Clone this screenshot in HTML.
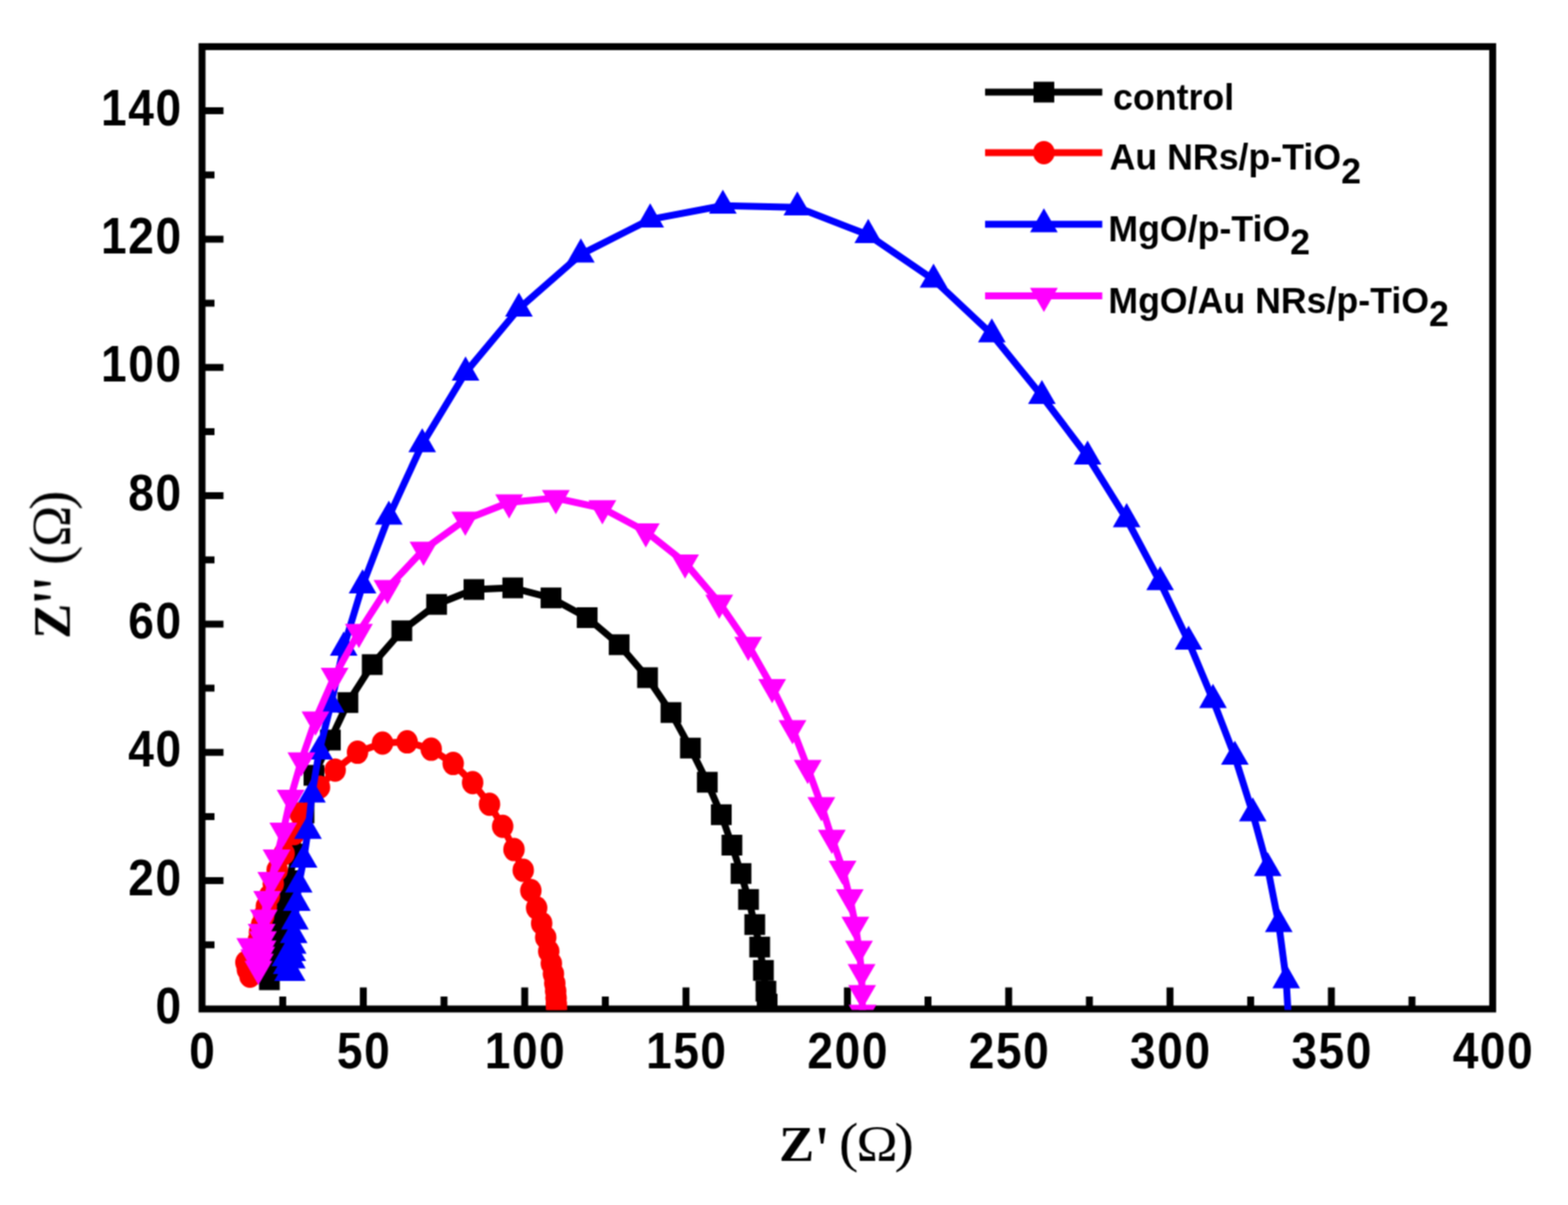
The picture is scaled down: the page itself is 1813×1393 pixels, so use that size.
<!DOCTYPE html>
<html lang="en">
<head>
<meta charset="utf-8">
<title>Nyquist plot</title>
<style>
html,body{margin:0;padding:0;background:#fff;}
body{width:1813px;height:1393px;overflow:hidden;}
svg{display:block;}
.tk{font-family:"Liberation Sans",sans-serif;font-weight:bold;font-size:58px;fill:#000;}
.lg{font-family:"Liberation Sans",sans-serif;font-weight:bold;font-size:41.3px;fill:#000;}
.ax{font-family:"Liberation Serif",serif;font-weight:bold;font-size:56px;fill:#000;}
.sy{font-weight:normal;}
</style>
</head>
<body>
<svg width="1813" height="1393" viewBox="0 0 1813 1393">
<defs><clipPath id="plot"><rect x="233.6" y="53.9" width="1492.3" height="1113.7"/></clipPath>
<filter id="soft" filterUnits="userSpaceOnUse" x="0" y="0" width="1813" height="1393" color-interpolation-filters="sRGB"><feConvolveMatrix order="3" kernelMatrix="1 2 1 2 4 2 1 2 1" divisor="16" edgeMode="duplicate" preserveAlpha="false"/></filter></defs>
<rect width="1813" height="1393" fill="#fff"/>
<g filter="url(#soft)">
<g id="axes" stroke="#000" stroke-width="8" fill="none" stroke-linecap="butt">
<rect x="233.6" y="53.9" width="1492.3" height="1112.5" stroke-linejoin="miter"/>
<path d="M326.9 1166.4V1152M420.1 1166.4V1141.6M513.4 1166.4V1152M606.7 1166.4V1141.6M699.9 1166.4V1152M793.2 1166.4V1141.6M886.5 1166.4V1152M979.8 1166.4V1141.6M1073 1166.4V1152M1166.3 1166.4V1141.6M1259.6 1166.4V1152M1352.8 1166.4V1141.6M1446.1 1166.4V1152M1539.4 1166.4V1141.6M1632.6 1166.4V1152M233.6 1092.2H248M233.6 1018.1H258.4M233.6 943.9H248M233.6 869.7H258.4M233.6 795.6H248M233.6 721.4H258.4M233.6 647.2H248M233.6 573.1H258.4M233.6 498.9H248M233.6 424.7H258.4M233.6 350.6H248M233.6 276.4H258.4M233.6 202.2H248M233.6 128.1H258.4"/>
</g>
<g id="xticklabels" class="tk" text-anchor="middle" letter-spacing="1.93">
<text transform="translate(234.5 1234.9) scale(0.92 1.03)">0</text>
<text transform="translate(421 1234.9) scale(0.92 1.03)">50</text>
<text transform="translate(607.6 1234.9) scale(0.92 1.03)">100</text>
<text transform="translate(794.1 1234.9) scale(0.92 1.03)">150</text>
<text transform="translate(980.7 1234.9) scale(0.92 1.03)">200</text>
<text transform="translate(1167.2 1234.9) scale(0.92 1.03)">250</text>
<text transform="translate(1353.7 1234.9) scale(0.92 1.03)">300</text>
<text transform="translate(1540.3 1234.9) scale(0.92 1.03)">350</text>
<text transform="translate(1726.8 1234.9) scale(0.92 1.03)">400</text>
</g>
<g id="yticklabels" class="tk" text-anchor="end" letter-spacing="1.93">
<text transform="translate(211.1 1183.1) scale(0.92 1.03)">0</text>
<text transform="translate(211.1 1034.8) scale(0.92 1.03)">20</text>
<text transform="translate(211.1 886.4) scale(0.92 1.03)">40</text>
<text transform="translate(211.1 738.1) scale(0.92 1.03)">60</text>
<text transform="translate(211.1 589.8) scale(0.92 1.03)">80</text>
<text transform="translate(211.1 441.4) scale(0.92 1.03)">100</text>
<text transform="translate(211.1 293.1) scale(0.92 1.03)">120</text>
<text transform="translate(211.1 144.8) scale(0.92 1.03)">140</text>
</g>
<text class="ax" transform="translate(903.8 1341.7) scale(1.07 1)" xml:space="preserve"><tspan x="-2.9" y="0" font-size="57">Z</tspan><tspan x="36.8" y="12.1" font-size="76" class="sy">' </tspan><tspan x="61.8" y="0" font-size="63" class="sy">(</tspan><tspan x="80.7" y="0" font-size="60" class="sy">Ω</tspan><tspan x="122" y="0" font-size="63" class="sy">)</tspan></text>
<text class="ax" transform="translate(80.3 735.3) rotate(-90) scale(1.07 1.06)" xml:space="preserve"><tspan x="-2.9" y="0" font-size="57">Z</tspan><tspan x="35.2" y="12.1" font-size="76" class="sy">'</tspan><tspan x="49.7" y="12.1" font-size="76" class="sy">' </tspan><tspan x="76.6" y="0" font-size="63" class="sy">(</tspan><tspan x="96.3" y="0" font-size="60" class="sy">Ω</tspan><tspan x="136.3" y="0" font-size="63" class="sy">)</tspan></text>
<g id="data" clip-path="url(#plot)" stroke-linejoin="round" stroke-linecap="butt">
<g id="control" fill="#000000">
<polyline points="311.5,1132.6 313.5,1121.8 316,1109.8 319.5,1097.3 322.5,1076.5 325.5,1062.1 329.5,1039.8 334,1018.1 341,987.3 351.5,939.8 363,896.3 382,855.5 402.3,812.2 430.4,768.3 464.6,729.2 504.8,698.7 548,681.5 592.9,679.6 637.1,691.2 678.9,714 715.9,745.3 748.7,783.4 775.8,823.7 798.3,864.8 817.8,904.3 834,941.8 846.3,977 856.8,1009.8 865.5,1039.8 872.7,1068.8 878.4,1094.8 882.7,1121.8 885.6,1145.8 887,1160.8" fill="none" stroke="#000000" stroke-width="8"/>
<rect x="299.5" y="1120.6" width="24" height="24"/><rect x="301.5" y="1109.8" width="24" height="24"/><rect x="304" y="1097.8" width="24" height="24"/><rect x="307.5" y="1085.3" width="24" height="24"/><rect x="310.5" y="1064.5" width="24" height="24"/><rect x="313.5" y="1050.1" width="24" height="24"/><rect x="317.5" y="1027.8" width="24" height="24"/><rect x="322" y="1006.1" width="24" height="24"/><rect x="329" y="975.3" width="24" height="24"/><rect x="339.5" y="927.8" width="24" height="24"/><rect x="351" y="884.3" width="24" height="24"/><rect x="370" y="843.5" width="24" height="24"/><rect x="390.3" y="800.2" width="24" height="24"/><rect x="418.4" y="756.3" width="24" height="24"/><rect x="452.6" y="717.2" width="24" height="24"/><rect x="492.8" y="686.7" width="24" height="24"/><rect x="536" y="669.5" width="24" height="24"/><rect x="580.9" y="667.6" width="24" height="24"/><rect x="625.1" y="679.2" width="24" height="24"/><rect x="666.9" y="702" width="24" height="24"/><rect x="703.9" y="733.3" width="24" height="24"/><rect x="736.7" y="771.4" width="24" height="24"/><rect x="763.8" y="811.7" width="24" height="24"/><rect x="786.3" y="852.8" width="24" height="24"/><rect x="805.8" y="892.3" width="24" height="24"/><rect x="822" y="929.8" width="24" height="24"/><rect x="834.3" y="965" width="24" height="24"/><rect x="844.8" y="997.8" width="24" height="24"/><rect x="853.5" y="1027.8" width="24" height="24"/><rect x="860.7" y="1056.8" width="24" height="24"/><rect x="866.4" y="1082.8" width="24" height="24"/><rect x="870.7" y="1109.8" width="24" height="24"/><rect x="873.6" y="1133.8" width="24" height="24"/><rect x="875" y="1148.8" width="24" height="24"/>
</g>
<g id="au-nrs" fill="#ff0000">
<polyline points="284.3,1112.5 286,1120.8 289,1128.5 293,1118.8 295.5,1106.8 297.5,1095.8 298.8,1086.8 300,1077.8 302.5,1068.8 305,1058.8 308,1047.8 311.5,1035.8 316,1021.8 320.5,1005.8 328.5,986.8 340,963.8 347,940.8 369.4,910 387.5,890.2 413.4,869.6 442.3,859 470.7,857.6 498.6,866.1 524,882.6 546.5,904.8 566,929.8 581.2,955.2 594.3,982.1 605,1006.1 613.8,1029.5 620.5,1049.6 626.3,1067.4 631,1083.8 634.5,1099.8 637.5,1113.8 639.9,1125.8 641.5,1136.8 642.5,1145.8 643,1153.8 643.3,1160.8 643.5,1166.8" fill="none" stroke="#ff0000" stroke-width="8"/>
<ellipse cx="284.3" cy="1112.5" rx="12.4" ry="13.5"/><ellipse cx="286" cy="1120.8" rx="12.4" ry="13.5"/><ellipse cx="289" cy="1128.5" rx="12.4" ry="13.5"/><ellipse cx="293" cy="1118.8" rx="12.4" ry="13.5"/><ellipse cx="295.5" cy="1106.8" rx="12.4" ry="13.5"/><ellipse cx="297.5" cy="1095.8" rx="12.4" ry="13.5"/><ellipse cx="298.8" cy="1086.8" rx="12.4" ry="13.5"/><ellipse cx="300" cy="1077.8" rx="12.4" ry="13.5"/><ellipse cx="302.5" cy="1068.8" rx="12.4" ry="13.5"/><ellipse cx="305" cy="1058.8" rx="12.4" ry="13.5"/><ellipse cx="308" cy="1047.8" rx="12.4" ry="13.5"/><ellipse cx="311.5" cy="1035.8" rx="12.4" ry="13.5"/><ellipse cx="316" cy="1021.8" rx="12.4" ry="13.5"/><ellipse cx="320.5" cy="1005.8" rx="12.4" ry="13.5"/><ellipse cx="328.5" cy="986.8" rx="12.4" ry="13.5"/><ellipse cx="340" cy="963.8" rx="12.4" ry="13.5"/><ellipse cx="347" cy="940.8" rx="12.4" ry="13.5"/><ellipse cx="369.4" cy="910" rx="12.4" ry="13.5"/><ellipse cx="387.5" cy="890.2" rx="12.4" ry="13.5"/><ellipse cx="413.4" cy="869.6" rx="12.4" ry="13.5"/><ellipse cx="442.3" cy="859" rx="12.4" ry="13.5"/><ellipse cx="470.7" cy="857.6" rx="12.4" ry="13.5"/><ellipse cx="498.6" cy="866.1" rx="12.4" ry="13.5"/><ellipse cx="524" cy="882.6" rx="12.4" ry="13.5"/><ellipse cx="546.5" cy="904.8" rx="12.4" ry="13.5"/><ellipse cx="566" cy="929.8" rx="12.4" ry="13.5"/><ellipse cx="581.2" cy="955.2" rx="12.4" ry="13.5"/><ellipse cx="594.3" cy="982.1" rx="12.4" ry="13.5"/><ellipse cx="605" cy="1006.1" rx="12.4" ry="13.5"/><ellipse cx="613.8" cy="1029.5" rx="12.4" ry="13.5"/><ellipse cx="620.5" cy="1049.6" rx="12.4" ry="13.5"/><ellipse cx="626.3" cy="1067.4" rx="12.4" ry="13.5"/><ellipse cx="631" cy="1083.8" rx="12.4" ry="13.5"/><ellipse cx="634.5" cy="1099.8" rx="12.4" ry="13.5"/><ellipse cx="637.5" cy="1113.8" rx="12.4" ry="13.5"/><ellipse cx="639.9" cy="1125.8" rx="12.4" ry="13.5"/><ellipse cx="641.5" cy="1136.8" rx="12.4" ry="13.5"/><ellipse cx="642.5" cy="1145.8" rx="12.4" ry="13.5"/><ellipse cx="643" cy="1153.8" rx="12.4" ry="13.5"/><ellipse cx="643.3" cy="1160.8" rx="12.4" ry="13.5"/><ellipse cx="643.5" cy="1166.8" rx="12.4" ry="13.5"/>
</g>
<g id="mgo" fill="#0000ff">
<polyline points="330,1107.8 331.5,1116.8 333,1124.8 337.3,1124.7 337.5,1110.1 338,1101.8 338.5,1093.1 339.6,1080.9 341,1065.1 343.2,1043.6 345.4,1022.5 351.1,993.8 356.1,960.5 360.7,918.4 369,868.8 382.5,814.5 397.4,748.6 419.2,676.6 449.6,597.3 488.2,513.5 538.3,430.6 600,356.8 671.6,294.1 751.8,253.6 835.8,237.7 921.9,239.8 1003.9,271.6 1079.4,323.2 1146.8,386.4 1204.7,457.8 1257.5,527.7 1302.7,600.1 1341.4,673 1374.3,741.8 1402.5,809.1 1427.8,874.8 1448.5,940.2 1465.8,1003.5 1478.6,1068.3 1487.2,1133.1 1489.6,1175" fill="none" stroke="#0000ff" stroke-width="8"/>
<path d="M330 1089.3L346 1117.1L314 1117.1Z"/><path d="M331.5 1098.3L347.5 1126.1L315.5 1126.1Z"/><path d="M333 1106.3L349 1134.1L317 1134.1Z"/><path d="M337.3 1106.2L353.3 1134L321.3 1134Z"/><path d="M337.5 1091.6L353.5 1119.4L321.5 1119.4Z"/><path d="M338 1083.3L354 1111.1L322 1111.1Z"/><path d="M338.5 1074.6L354.5 1102.4L322.5 1102.4Z"/><path d="M339.6 1062.4L355.6 1090.2L323.6 1090.2Z"/><path d="M341 1046.6L357 1074.4L325 1074.4Z"/><path d="M343.2 1025.1L359.2 1052.9L327.2 1052.9Z"/><path d="M345.4 1004L361.4 1031.8L329.4 1031.8Z"/><path d="M351.1 975.3L367.1 1003.1L335.1 1003.1Z"/><path d="M356.1 942L372.1 969.8L340.1 969.8Z"/><path d="M360.7 899.9L376.7 927.7L344.7 927.7Z"/><path d="M369 850.3L385 878.1L353 878.1Z"/><path d="M382.5 796L398.5 823.8L366.5 823.8Z"/><path d="M397.4 730.1L413.4 757.9L381.4 757.9Z"/><path d="M419.2 658.1L435.2 685.9L403.2 685.9Z"/><path d="M449.6 578.8L465.6 606.6L433.6 606.6Z"/><path d="M488.2 495L504.2 522.8L472.2 522.8Z"/><path d="M538.3 412.1L554.3 439.9L522.3 439.9Z"/><path d="M600 338.3L616 366.1L584 366.1Z"/><path d="M671.6 275.6L687.6 303.4L655.6 303.4Z"/><path d="M751.8 235.1L767.8 262.9L735.8 262.9Z"/><path d="M835.8 219.2L851.8 247L819.8 247Z"/><path d="M921.9 221.3L937.9 249.1L905.9 249.1Z"/><path d="M1003.9 253.1L1019.9 280.9L987.9 280.9Z"/><path d="M1079.4 304.7L1095.4 332.5L1063.4 332.5Z"/><path d="M1146.8 367.9L1162.8 395.7L1130.8 395.7Z"/><path d="M1204.7 439.3L1220.7 467.1L1188.7 467.1Z"/><path d="M1257.5 509.2L1273.5 537L1241.5 537Z"/><path d="M1302.7 581.6L1318.7 609.4L1286.7 609.4Z"/><path d="M1341.4 654.5L1357.4 682.3L1325.4 682.3Z"/><path d="M1374.3 723.3L1390.3 751.1L1358.3 751.1Z"/><path d="M1402.5 790.6L1418.5 818.4L1386.5 818.4Z"/><path d="M1427.8 856.3L1443.8 884.1L1411.8 884.1Z"/><path d="M1448.5 921.7L1464.5 949.5L1432.5 949.5Z"/><path d="M1465.8 985L1481.8 1012.8L1449.8 1012.8Z"/><path d="M1478.6 1049.8L1494.6 1077.6L1462.6 1077.6Z"/><path d="M1487.2 1114.6L1503.2 1142.4L1471.2 1142.4Z"/>
</g>
<g id="mgo-au-nrs" fill="#ff00ff">
<polyline points="289.4,1093.8 294,1106.8 298.8,1120 300.5,1111.8 302,1103.8 303.5,1096.5 304,1085.8 302.5,1077.3 305,1060.8 308.9,1039.3 313.7,1017.3 319.8,991.3 327.6,960.3 336,922.4 348.5,879 364.8,831.8 386.9,781.3 415,730.6 448,679.8 489.7,635.6 538,600.8 588.7,580.7 642.7,575.8 696.5,587.5 746.7,614.3 792.1,650.3 831.6,696.8 865.1,745.5 892.8,794.3 916.3,841.9 933.9,887.8 949.7,930.8 961.8,968.6 974.2,1004.2 982.5,1037.4 989,1069 993.2,1096.8 996.2,1123.9 996.8,1148.1 997.3,1170.7" fill="none" stroke="#ff00ff" stroke-width="8"/>
<path d="M289.4 1112.5L305.5 1084.5L273.3 1084.5Z"/><path d="M294 1125.5L310.1 1097.5L277.9 1097.5Z"/><path d="M298.8 1138.7L314.9 1110.7L282.7 1110.7Z"/><path d="M300.5 1130.5L316.6 1102.5L284.4 1102.5Z"/><path d="M302 1122.5L318.1 1094.5L285.9 1094.5Z"/><path d="M303.5 1115.2L319.6 1087.2L287.4 1087.2Z"/><path d="M304 1104.5L320.1 1076.5L287.9 1076.5Z"/><path d="M302.5 1096L318.6 1068L286.4 1068Z"/><path d="M305 1079.5L321.1 1051.5L288.9 1051.5Z"/><path d="M308.9 1058L325 1030L292.8 1030Z"/><path d="M313.7 1036L329.8 1008L297.6 1008Z"/><path d="M319.8 1010L335.9 982L303.7 982Z"/><path d="M327.6 979L343.7 951L311.5 951Z"/><path d="M336 941.1L352.1 913.1L319.9 913.1Z"/><path d="M348.5 897.7L364.6 869.7L332.4 869.7Z"/><path d="M364.8 850.5L380.9 822.5L348.7 822.5Z"/><path d="M386.9 800L403 772L370.8 772Z"/><path d="M415 749.3L431.1 721.3L398.9 721.3Z"/><path d="M448 698.5L464.1 670.5L431.9 670.5Z"/><path d="M489.7 654.3L505.8 626.3L473.6 626.3Z"/><path d="M538 619.5L554.1 591.5L521.9 591.5Z"/><path d="M588.7 599.4L604.8 571.4L572.6 571.4Z"/><path d="M642.7 594.5L658.8 566.5L626.6 566.5Z"/><path d="M696.5 606.2L712.6 578.2L680.4 578.2Z"/><path d="M746.7 633L762.8 605L730.6 605Z"/><path d="M792.1 669L808.2 641L776 641Z"/><path d="M831.6 715.5L847.7 687.5L815.5 687.5Z"/><path d="M865.1 764.2L881.2 736.2L849 736.2Z"/><path d="M892.8 813L908.9 785L876.7 785Z"/><path d="M916.3 860.6L932.4 832.6L900.2 832.6Z"/><path d="M933.9 906.5L950 878.5L917.8 878.5Z"/><path d="M949.7 949.5L965.8 921.5L933.6 921.5Z"/><path d="M961.8 987.3L977.9 959.3L945.7 959.3Z"/><path d="M974.2 1022.9L990.3 994.9L958.1 994.9Z"/><path d="M982.5 1056.1L998.6 1028.1L966.4 1028.1Z"/><path d="M989 1087.7L1005.1 1059.7L972.9 1059.7Z"/><path d="M993.2 1115.5L1009.3 1087.5L977.1 1087.5Z"/><path d="M996.2 1142.6L1012.3 1114.6L980.1 1114.6Z"/><path d="M996.8 1166.8L1012.9 1138.8L980.7 1138.8Z"/><path d="M997.3 1189.4L1013.4 1161.4L981.2 1161.4Z"/>
</g>
</g>
<g id="legend">
<g fill="#000000"><path d="M1139 106.5H1274.5" stroke="#000000" stroke-width="8" fill="none"/><rect x="1195" y="94.5" width="24" height="24"/></g>
<text class="lg" transform="translate(1287 126.5) scale(1 1.04)">control</text>
<g fill="#ff0000"><path d="M1139 176.4H1274.5" stroke="#ff0000" stroke-width="8" fill="none"/><ellipse cx="1207" cy="176.4" rx="12.4" ry="13.5"/></g>
<text class="lg" transform="translate(1283 196.4) scale(1 1.04)">Au NRs/p-TiO<tspan dy="14.7">2</tspan></text>
<g fill="#0000ff"><path d="M1139 259.2H1274.5" stroke="#0000ff" stroke-width="8" fill="none"/><path d="M1207 240.7L1223 268.5L1191 268.5Z"/></g>
<text class="lg" transform="translate(1281.5 279.2) scale(1 1.04)">MgO/p-TiO<tspan dy="14.7">2</tspan></text>
<g fill="#ff00ff"><path d="M1139 342H1274.5" stroke="#ff00ff" stroke-width="8" fill="none"/><path d="M1207 360.7L1223.1 332.7L1190.9 332.7Z"/></g>
<text class="lg" transform="translate(1281.5 362) scale(1 1.04)">MgO/Au NRs/p-TiO<tspan dy="14.7">2</tspan></text>
</g>
</g>
</svg>
</body>
</html>
